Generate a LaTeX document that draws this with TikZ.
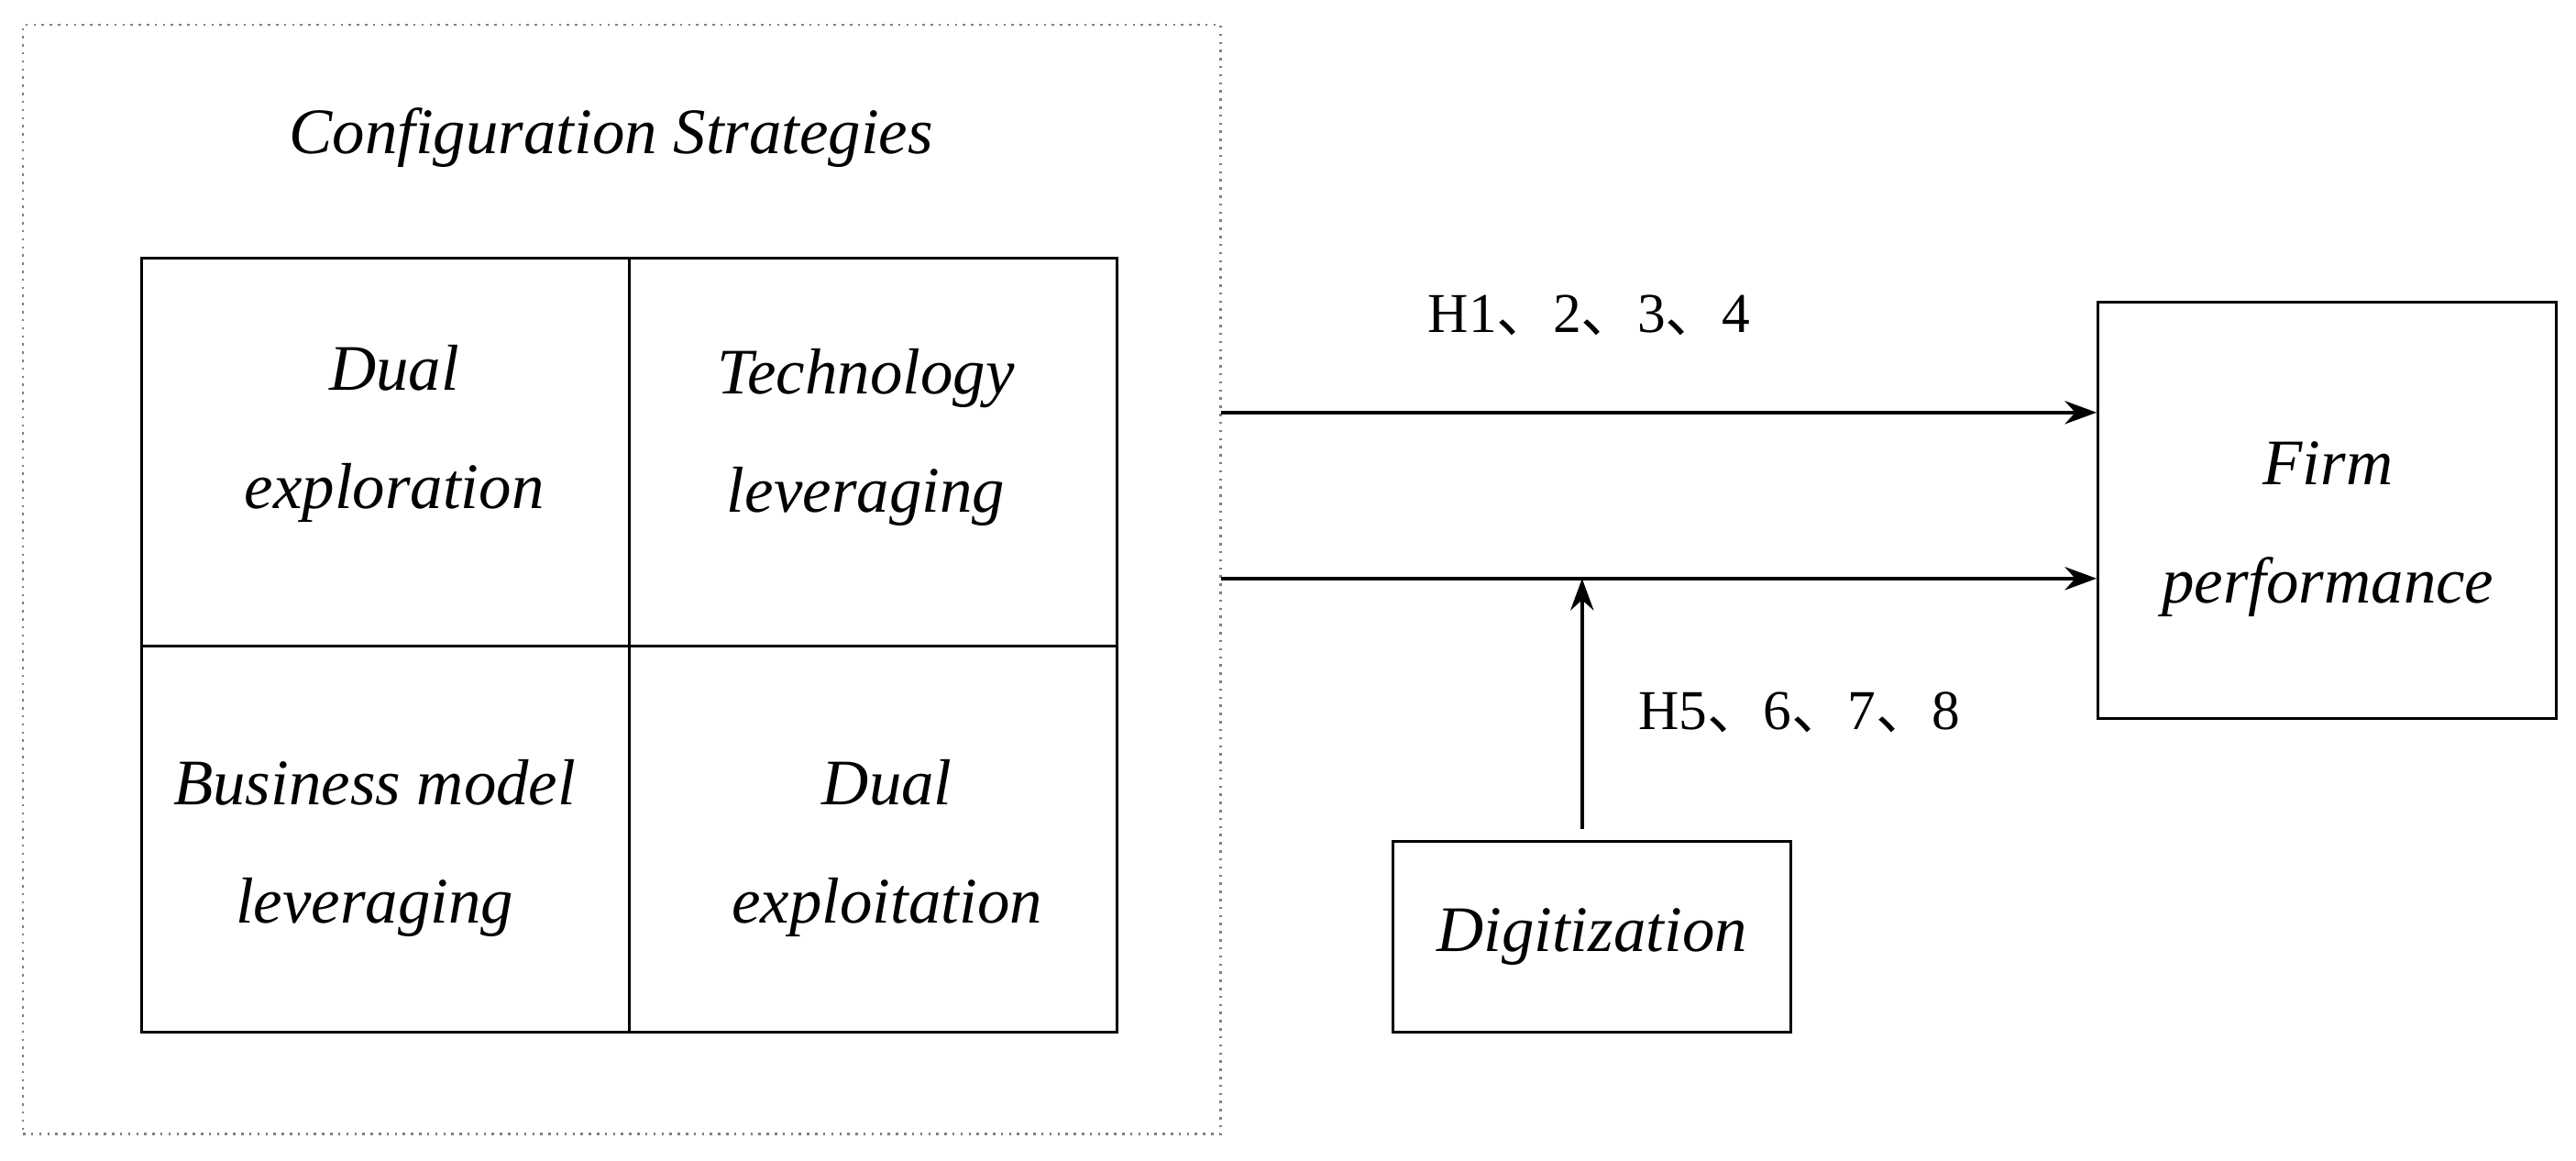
\documentclass[tikz,border=0pt]{standalone}
\usepackage{fontspec}
\setmainfont{Liberation Serif}
\newfontfamily\cjk{Noto Sans CJK SC}
\usetikzlibrary{arrows.meta}
\begin{document}
\begin{tikzpicture}[x=0.02cm,y=-0.02cm,
  lbl/.style={font=\itshape\fontsize{22.5}{41}\selectfont,align=center},
  hl/.style={font=\fontsize{19.5}{20}\selectfont,anchor=base west},
  box/.style={draw,line width=0.9pt,inner sep=0pt},
  arr/.style={line width=1.3pt,-{Stealth[length=11pt,width=8pt]}}]
\useasboundingbox (0,0) rectangle (1568,706);
\node[draw=gray,dotted,line width=0.8pt,minimum width=729*0.02cm,minimum height=675*0.02cm,inner sep=0pt] (frame) at (378.5,352.5) {};
\node[lbl] (title) at (372,84) {Configuration Strategies};
\node[box,minimum width=297*0.02cm,minimum height=236*0.02cm] (c1) at (234.5,275) {};
\node[box,minimum width=297*0.02cm,minimum height=236*0.02cm] (c2) at (531.5,275) {};
\node[box,minimum width=297*0.02cm,minimum height=235*0.02cm] (c3) at (234.5,510.5) {};
\node[box,minimum width=297*0.02cm,minimum height=235*0.02cm] (c4) at (531.5,510.5) {};
\node[lbl] (t1) at (240,264) {Dual\\exploration};
\node[lbl] (t2) at (527,266) {Technology\\leveraging};
\node[lbl] (t3) at (228,516) {Business model\\leveraging};
\node[lbl] (t4) at (540,516) {Dual\\exploitation};
\node[box,minimum width=279*0.02cm,minimum height=253*0.02cm] (firm) at (1416.5,310.5) {};
\node[lbl] (tf) at (1417,322) {Firm\\performance};
\node[box,minimum width=242*0.02cm,minimum height=116*0.02cm,lbl] (dig) at (969,570) {\raisebox{-7pt}{Digitization}};
\coordinate (a1) at (743,251);
\coordinate (a2) at (743,352);
\draw[arr] (a1) -- (a1 -| firm.west);
\draw[arr] (a2) -- (a2 -| firm.west);
\coordinate (m) at (963,352);
\draw[arr] (dig.north -| m) ++(0,-7) -- (m);
\node[hl] (h1) at (863,202) {H1{\cjk 、}2{\cjk 、}3{\cjk 、}4};
\node[hl] (h2) at (991,444) {H5{\cjk 、}6{\cjk 、}7{\cjk 、}8};
\end{tikzpicture}
\end{document}
